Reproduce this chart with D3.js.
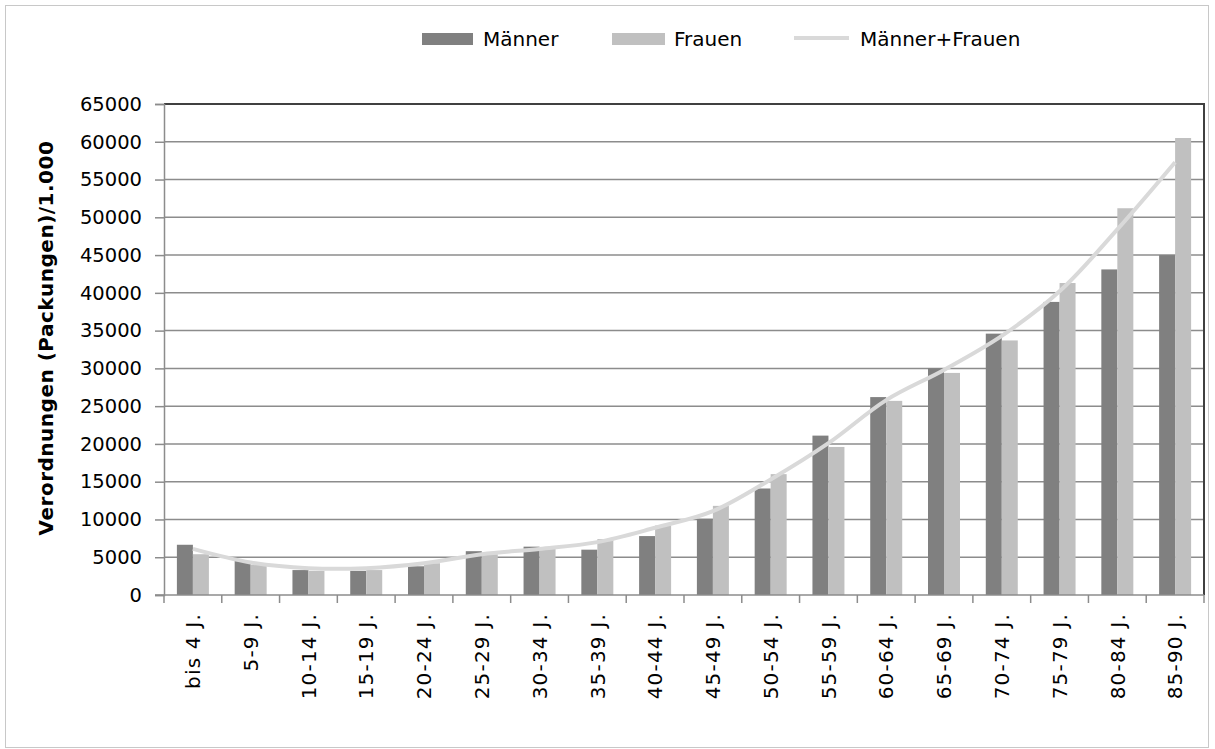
<!DOCTYPE html>
<html>
<head>
<meta charset="utf-8">
<script src="https://cdn.jsdelivr.net/npm/d3@7"></script>
<style>
  body { margin: 0; background: #fff; }
  svg text { font-family: "DejaVu Sans", sans-serif; fill: #000; }
</style>
</head>
<body>
<svg id="chart" width="1215" height="749"></svg>
<script>
// Verordnungen nach Altersgruppen
const categories = ["bis 4 J.", "5-9 J.", "10-14 J.", "15-19 J.", "20-24 J.", "25-29 J.",
                    "30-34 J.", "35-39 J.", "40-44 J.", "45-49 J.", "50-54 J.", "55-59 J.",
                    "60-64 J.", "65-69 J.", "70-74 J.", "75-79 J.", "80-84 J.", "85-90 J."];
const maenner = [6650, 4500, 3300, 3200, 3800, 5800, 6400, 6000, 7800, 10100,
                 14100, 21100, 26200, 30000, 34600, 38800, 43100, 45000];
const frauen = [5400, 4000, 3200, 3300, 4200, 5400, 6200, 7400, 9200, 11800,
                16000, 19600, 25700, 29400, 33700, 41300, 51200, 60500];
const gesamt = [6100, 4300, 3550, 3550, 4200, 5400, 6100, 7000, 8900, 11100,
                15300, 20100, 25800, 29800, 34300, 40200, 48400, 57300];
const yTicks = [0, 5000, 10000, 15000, 20000, 25000, 30000, 35000, 40000, 45000,
                50000, 55000, 60000, 65000];

const svg = d3.select('#chart');

// outer frame
svg.append('rect')
   .attr('x', 5.5).attr('y', 5.5)
   .attr('width', 1203).attr('height', 742)
   .attr('fill', 'none')
   .attr('stroke', '#c8c8c8');

const plotLeft = 164, plotRight = 1204, plotTop = 104, plotBottom = 595;

const x0 = d3.scaleBand().domain(categories).range([plotLeft, plotRight]).padding(0);
const bw = x0.bandwidth();
const barW = 16;
const x1 = d3.scaleBand().domain(['m', 'f']).range([bw / 2 - barW, bw / 2 + barW]);
const y = d3.scaleLinear().domain([0, 65000]).range([plotBottom, plotTop]);

// gridlines
svg.append('g')
   .selectAll('line')
   .data(yTicks.slice(1, -1))
   .enter()
   .append('line')
   .attr('x1', plotLeft).attr('x2', plotRight)
   .attr('y1', d => y(d)).attr('y2', d => y(d))
   .attr('stroke', '#8c8c8c')
   .attr('stroke-width', 1.5);

// bars
const rows = categories.map((c, i) => ({cat: c, m: maenner[i], f: frauen[i]}));
const groups = svg.append('g')
   .selectAll('g')
   .data(rows)
   .enter()
   .append('g')
   .attr('transform', d => `translate(${x0(d.cat)},0)`);

groups.append('rect')
   .attr('x', x1('m'))
   .attr('width', x1.bandwidth())
   .attr('y', d => y(d.m))
   .attr('height', d => y(0) - y(d.m))
   .attr('fill', '#808080');

groups.append('rect')
   .attr('x', x1('f'))
   .attr('width', x1.bandwidth())
   .attr('y', d => y(d.f))
   .attr('height', d => y(0) - y(d.f))
   .attr('fill', '#c0c0c0');

// plot border top/right
svg.append('path')
   .attr('d', `M${plotLeft},${plotTop}H${plotRight}V${plotBottom}`)
   .attr('fill', 'none')
   .attr('stroke', '#404040')
   .attr('stroke-width', 2);

// y axis
const yAxis = svg.append('g')
   .attr('transform', `translate(${plotLeft},0)`)
   .call(d3.axisLeft(y).tickValues(yTicks).tickSize(9).tickPadding(13).tickFormat(d3.format('d')));
yAxis.select('.domain').attr('stroke', '#8c8c8c').attr('stroke-width', 1.5);
yAxis.selectAll('.tick line').attr('stroke', '#8c8c8c').attr('stroke-width', 1.5);
yAxis.selectAll('.tick text')
   .attr('font-family', '"DejaVu Sans", sans-serif')
   .attr('font-size', 19.5)
   .attr('fill', '#000');

// x axis
svg.append('line')
   .attr('x1', plotLeft - 9).attr('x2', plotRight)
   .attr('y1', plotBottom).attr('y2', plotBottom)
   .attr('stroke', '#8c8c8c')
   .attr('stroke-width', 1.5);

svg.append('g')
   .selectAll('line')
   .data(categories.concat(['end']))
   .enter()
   .append('line')
   .attr('x1', d => d === 'end' ? plotRight : x0(d))
   .attr('x2', d => d === 'end' ? plotRight : x0(d))
   .attr('y1', plotBottom).attr('y2', plotBottom + 8)
   .attr('stroke', '#8c8c8c')
   .attr('stroke-width', 1.5);

svg.append('g')
   .selectAll('text')
   .data(categories)
   .enter()
   .append('text')
   .attr('transform', d => `translate(${x0(d) + bw / 2},613) rotate(-90)`)
   .attr('text-anchor', 'end')
   .attr('dy', '0.36em')
   .attr('font-size', 20)
   .attr('letter-spacing', 1.2)
   .text(d => d);

// line Männer+Frauen
const line = d3.line()
   .x((d, i) => x0(categories[i]) + bw / 2)
   .y(d => y(d))
   .curve(d3.curveCatmullRom.alpha(0.5));

svg.append('path')
   .datum(gesamt)
   .attr('fill', 'none')
   .attr('stroke', '#d9d9d9')
   .attr('stroke-width', 4)
   .attr('d', line);

// y title
svg.append('text')
   .attr('transform', 'translate(46,338) rotate(-90)')
   .attr('text-anchor', 'middle')
   .attr('dy', '0.36em')
   .attr('font-size', 20)
   .attr('font-weight', 'bold')
   .attr('letter-spacing', 0.5)
   .text('Verordnungen (Packungen)/1.000');

// legend
const legend = svg.append('g');
legend.append('rect').attr('x', 422).attr('y', 33).attr('width', 51).attr('height', 12).attr('fill', '#808080');
legend.append('text').attr('x', 483).attr('y', 46).attr('font-size', 20).text('Männer');
legend.append('rect').attr('x', 612).attr('y', 33).attr('width', 53).attr('height', 12).attr('fill', '#c0c0c0');
legend.append('text').attr('x', 674).attr('y', 46).attr('font-size', 20).text('Frauen');
legend.append('line').attr('x1', 794).attr('x2', 849).attr('y1', 38).attr('y2', 38)
   .attr('stroke', '#d9d9d9').attr('stroke-width', 4);
legend.append('text').attr('x', 860).attr('y', 46).attr('font-size', 20).text('Männer+Frauen');
</script>
</body>
</html>
